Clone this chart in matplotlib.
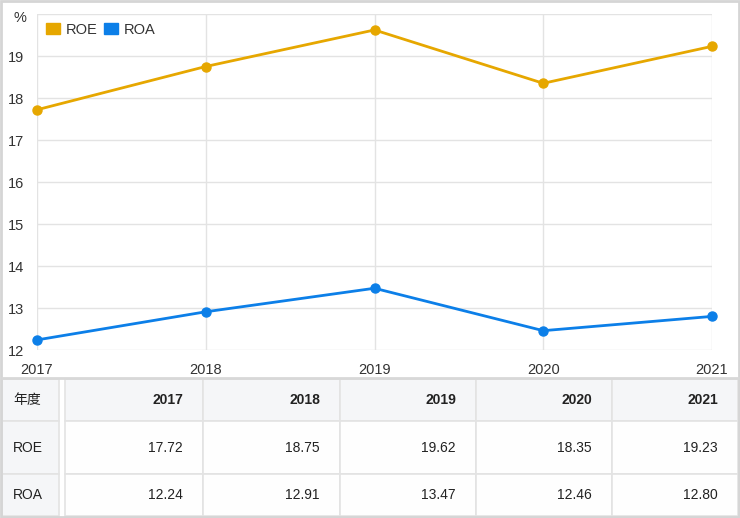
import matplotlib.pyplot as plt
from matplotlib.patches import Patch, Rectangle

plt.rcParams['font.family'] = ['Liberation Sans', 'Noto Sans CJK SC', 'DejaVu Sans']

years = ['2017', '2018', '2019', '2020', '2021']
roe = [17.72, 18.75, 19.62, 18.35, 19.23]
roa = [12.24, 12.91, 13.47, 12.46, 12.80]
row_labels = ['ROE', 'ROA']
header_label = '年度'

roe_color = '#e6a700'
roa_color = '#0c7fe8'
grid_color = '#e3e3e3'
text_color = '#333333'

W, H = 740, 518
fig = plt.figure(figsize=(W / 100, H / 100), dpi=100)

# chart area
ax = fig.add_axes([37 / W, (H - 350) / H, (712 - 37) / W, (350 - 14) / H])
x = list(range(len(years)))
ax.plot(x, roe, color=roe_color, lw=2, marker='o', ms=6.5, clip_on=False, zorder=3)
ax.plot(x, roa, color=roa_color, lw=2, marker='o', ms=6.5, clip_on=False, zorder=3)
ax.set_xlim(0, len(years) - 1)
ax.set_ylim(12, 20)
ax.set_yticks(range(12, 21))
ax.set_yticklabels([str(v) for v in range(12, 20)] + [''])
ax.set_xticks(x)
ax.set_xticklabels(years)
ax.grid(True, color=grid_color, lw=1)
ax.set_axisbelow(True)
for s in ax.spines.values():
    s.set_visible(False)
ax.tick_params(length=0, labelsize=10.5, colors=text_color)
ax.tick_params(axis='y', pad=9)
ax.tick_params(axis='x', pad=9)
fig.text(13 / W, 1 - 18 / H, '%', fontsize=10.5, color=text_color, va='center')

handles = [Patch(color=roe_color, label='ROE'), Patch(color=roa_color, label='ROA')]
ax.legend(handles=handles, loc='upper left', bbox_to_anchor=(0.0, 1.0), ncol=2,
          frameon=False, fontsize=10.5, handlelength=1.0, handleheight=0.8,
          handletextpad=0.4, columnspacing=0.4, borderaxespad=0.2,
          labelcolor=text_color)

# table
tx = fig.add_axes([0, 0, 1, 1], zorder=-1)
tx.set_xlim(0, W)
tx.set_ylim(H, 0)
tx.axis('off')

col_edges = [2, 63, 203, 340, 476, 612, 738]
row_edges = [379, 421, 474, 516]
head_bg = '#f5f6f8'
body_bg = '#fefefe'
line_c = '#e3e3e3'

rows = [[header_label] + years,
        [row_labels[0]] + ['%.2f' % v for v in roe],
        [row_labels[1]] + ['%.2f' % v for v in roa]]

for r in range(3):
    y0, y1 = row_edges[r], row_edges[r + 1]
    for c in range(len(col_edges) - 1):
        x0, x1 = col_edges[c], col_edges[c + 1]
        bg = head_bg if (r == 0 or c == 0) else body_bg
        if c == 0:
            x1 -= 4
        if c == 1:
            x0 += 2
        tx.add_patch(Rectangle((x0, y0), x1 - x0, y1 - y0, facecolor=bg,
                               edgecolor=line_c, lw=1.2))
        txt = rows[r][c]
        if c == 0:
            tx.text(x0 + 11, (y0 + y1) / 2, txt, ha='left', va='center',
                    fontsize=10, color='#222222')
        else:
            tx.text(x1 - 20, (y0 + y1) / 2, txt, ha='right', va='center',
                    fontsize=10, color='#222222',
                    fontweight='bold' if r == 0 else 'normal')

# outer border
tx.add_patch(Rectangle((1, 1), W - 2, H - 2, fill=False, edgecolor='#d5d5d5', lw=2))
tx.plot([2, 738], [378, 378], color='#d8d8d8', lw=2)

fig.savefig('out.png', dpi=100)
